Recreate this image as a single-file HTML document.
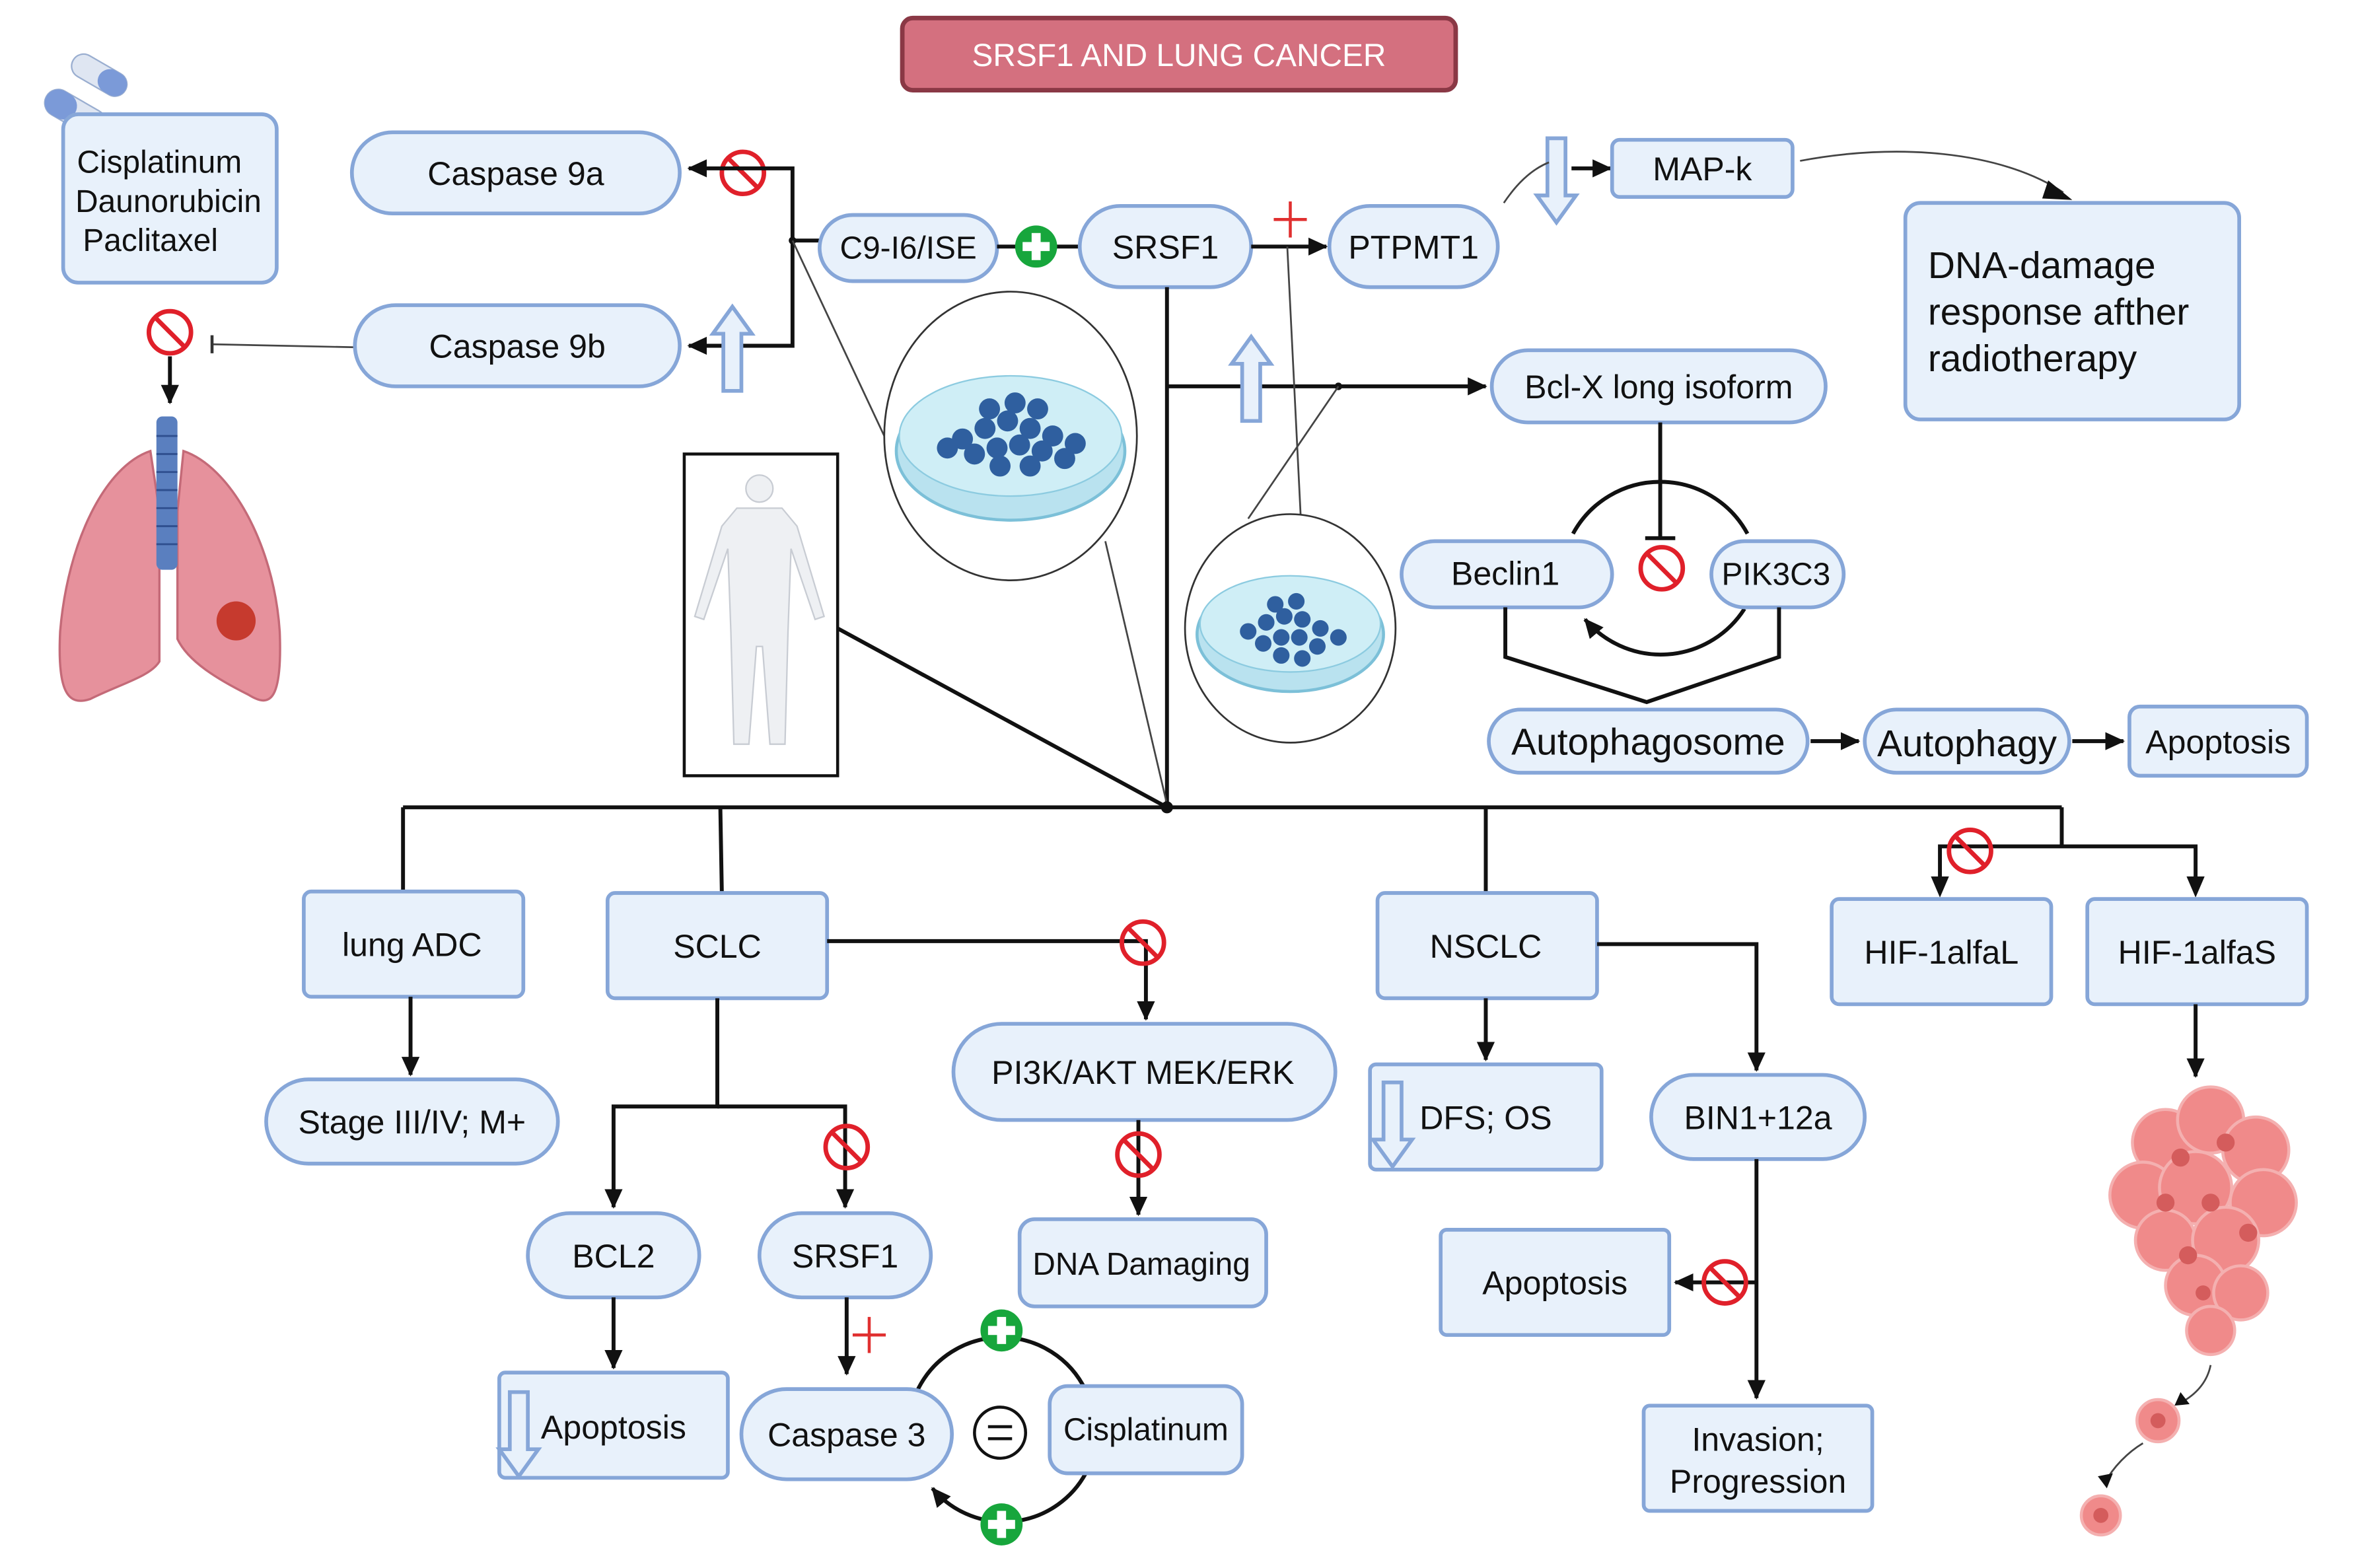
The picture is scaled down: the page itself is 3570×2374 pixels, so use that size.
<!DOCTYPE html>
<html><head><meta charset="utf-8"><style>
html,body{margin:0;padding:0;background:#fff;}
svg{display:block;}
text{font-family:"Liberation Sans Narrow","Liberation Sans",sans-serif;fill:#111;}
.b{fill:#e8f1fb;stroke:#86a6d8;stroke-width:2.5;}
.l{stroke:#111;stroke-width:2.6;fill:none;}
.t{stroke:#444;stroke-width:1.2;fill:none;}
</style></head><body>
<svg width="3570" height="2374" viewBox="0 0 1568 1043" preserveAspectRatio="none" xmlns="http://www.w3.org/2000/svg">
<defs>
<marker id="a" markerWidth="8" markerHeight="8" refX="6" refY="4" orient="auto" markerUnits="userSpaceOnUse"><path d="M0,0 L0,0 L8,4 L0,8 Z" transform="scale(1.6) translate(-2,-1.5)" fill="#111"/></marker>
<marker id="ah" markerWidth="14" markerHeight="14" refX="12" refY="7" orient="auto" markerUnits="userSpaceOnUse"><path d="M0,1 L13,7 L0,13 Z" fill="#111"/></marker>
<g id="ban"><circle r="14" fill="none" stroke="#e0202a" stroke-width="3"/><line x1="-10" y1="-10" x2="10" y2="10" stroke="#e0202a" stroke-width="3"/></g>
<g id="gp"><circle r="14" fill="#17a63c"/><rect x="-9" y="-3" width="18" height="6" fill="#fff"/><rect x="-3" y="-9" width="6" height="18" fill="#fff"/></g>
<g id="up"><path d="M0,-28 L13,-10 L6,-10 L6,28 L-6,28 L-6,-10 L-13,-10 Z" fill="#e8f1fb" stroke="#86a6d8" stroke-width="2.5"/></g>
<g id="rp"><line x1="-11" y1="0" x2="11" y2="0" stroke="#e03030" stroke-width="2"/><line x1="0" y1="-12" x2="0" y2="12" stroke="#e03030" stroke-width="2"/></g>
</defs>

<!-- title -->
<rect x="600" y="12" width="368" height="48" rx="7" fill="#d4707f" stroke="#8a3845" stroke-width="3"/>
<text x="784" y="44" font-size="21" text-anchor="middle" style="fill:#fff">SRSF1 AND LUNG CANCER</text>

<!-- pills -->
<g transform="translate(66,50) rotate(30)"><rect x="-20" y="-8" width="40" height="16" rx="8" fill="#dfe6f2" stroke="#9aaed0"/><rect x="0" y="-8" width="20" height="16" rx="8" fill="#7b9ad8"/></g>
<g transform="translate(50,75) rotate(30)"><rect x="-22" y="-9" width="44" height="18" rx="9" fill="#dfe6f2" stroke="#9aaed0"/><rect x="-22" y="-9" width="22" height="18" rx="9" fill="#7b9ad8"/></g>
<rect class="b" x="42" y="76" width="142" height="112" rx="10"/>
<text font-size="21" text-anchor="middle"><tspan x="106" y="115">Cisplatinum</tspan><tspan x="112" y="141">Daunorubicin</tspan><tspan x="100" y="167">Paclitaxel</tspan></text>
<use href="#ban" x="113" y="221"/>
<line class="l" x1="113" y1="237" x2="113" y2="268" marker-end="url(#ah)"/>
<line class="t" x1="141" y1="229" x2="236" y2="231" stroke-width="1.6"/><line x1="141" y1="223" x2="141" y2="235" stroke="#333" stroke-width="2"/>

<!-- lungs -->
<path d="M100,300 C70,310 45,360 40,420 C38,460 45,470 60,465 C80,455 100,450 106,440 L106,340 Z" fill="#e6919c" stroke="#c46a78" stroke-width="1.5"/>
<path d="M122,300 C152,310 182,360 186,420 C188,470 178,470 165,462 C145,452 125,440 118,425 L118,340 Z" fill="#e6919c" stroke="#c46a78" stroke-width="1.5"/>
<rect x="104" y="277" width="14" height="102" rx="4" fill="#5a7fbf"/>
<g stroke="#2f4f8f" stroke-width="1.3"><line x1="104" y1="290" x2="118" y2="290"/><line x1="104" y1="302" x2="118" y2="302"/><line x1="104" y1="314" x2="118" y2="314"/><line x1="104" y1="326" x2="118" y2="326"/><line x1="104" y1="338" x2="118" y2="338"/><line x1="104" y1="350" x2="118" y2="350"/><line x1="104" y1="362" x2="118" y2="362"/></g>
<circle cx="157" cy="413" r="13" fill="#c63a2e"/>

<!-- caspases -->
<rect class="b" x="234" y="88" width="218" height="54" rx="27"/><text x="343" y="123" font-size="22" text-anchor="middle">Caspase 9a</text>
<rect class="b" x="236" y="203" width="216" height="54" rx="27"/><text x="344" y="238" font-size="22" text-anchor="middle">Caspase 9b</text>
<use href="#ban" x="494" y="115"/>
<polyline class="l" points="527,160 527,112 458,112" marker-end="url(#ah)"/>
<polyline class="l" points="527,160 527,230 458,230" marker-end="url(#ah)"/>
<use href="#up" x="487" y="232"/>
<line class="l" x1="527" y1="160" x2="545" y2="160"/>
<circle cx="527" cy="160" r="2.5" fill="#111"/>

<rect class="b" x="545" y="143" width="118" height="44" rx="22"/><text x="604" y="172" font-size="21" text-anchor="middle">C9-I6/ISE</text>
<line class="l" x1="663" y1="164" x2="718" y2="164"/>
<use href="#gp" x="689" y="164"/>
<rect class="b" x="718" y="137" width="114" height="54" rx="27"/><text x="775" y="172" font-size="22" text-anchor="middle">SRSF1</text>
<line class="l" x1="832" y1="164" x2="882" y2="164" marker-end="url(#ah)"/>
<use href="#rp" x="858" y="146"/>
<rect class="b" x="884" y="137" width="112" height="54" rx="27"/><text x="940" y="172" font-size="22" text-anchor="middle">PTPMT1</text>
<g transform="translate(1035,120) rotate(180)"><use href="#up"/></g>
<path class="t" d="M1000,135 C1010,120 1020,112 1030,108"/>
<line class="l" x1="1045" y1="112" x2="1071" y2="112" marker-end="url(#ah)"/>
<rect class="b" x="1072" y="93" width="120" height="38" rx="5"/><text x="1132" y="120" font-size="22" text-anchor="middle">MAP-k</text>
<path class="t" d="M1197,107 C1260,95 1330,100 1372,128" stroke="#111" stroke-width="1.5"/>
<path d="M1362,120 L1378,133 L1358,132 Z" fill="#111"/>
<rect class="b" x="1267" y="135" width="222" height="144" rx="10"/>
<text font-size="25"><tspan x="1282" y="185">DNA-damage</tspan><tspan x="1282" y="216">response afther</tspan><tspan x="1282" y="247">radiotherapy</tspan></text>

<!-- SRSF1 trunk -->
<line class="l" x1="776" y1="191" x2="776" y2="537"/>
<line class="l" x1="776" y1="257" x2="988" y2="257" marker-end="url(#ah)"/>
<use href="#up" x="832" y="252"/>
<circle cx="890" cy="257" r="2.5" fill="#111"/>
<rect class="b" x="992" y="233" width="222" height="48" rx="24"/><text x="1103" y="265" font-size="22" text-anchor="middle">Bcl-X long isoform</text>
<line class="l" x1="1104" y1="281" x2="1104" y2="358"/><line x1="1094" y1="358" x2="1114" y2="358" stroke="#111" stroke-width="2.6"/>
<path class="l" d="M1046,355 A66,66 0 0 1 1162,355"/>
<path class="l" d="M1160,405 A66,66 0 0 1 1054,412" marker-end="url(#ah)"/>
<use href="#ban" x="1105" y="378"/>
<rect class="b" x="932" y="360" width="140" height="44" rx="22"/><text x="1001" y="389" font-size="22" text-anchor="middle">Beclin1</text>
<rect class="b" x="1138" y="360" width="88" height="44" rx="22"/><text x="1181" y="389" font-size="21" text-anchor="middle">PIK3C3</text>
<polyline class="l" points="1001,404 1001,437 1095,467 1183,437 1183,404"/>
<rect class="b" x="990" y="472" width="212" height="42" rx="21"/><text x="1096" y="502" font-size="25" text-anchor="middle">Autophagosome</text>
<line class="l" x1="1204" y1="493" x2="1236" y2="493" marker-end="url(#ah)"/>
<rect class="b" x="1240" y="472" width="136" height="42" rx="21"/><text x="1308" y="503" font-size="25" text-anchor="middle">Autophagy</text>
<line class="l" x1="1378" y1="493" x2="1412" y2="493" marker-end="url(#ah)"/>
<rect class="b" x="1416" y="470" width="118" height="46" rx="7"/><text x="1475" y="501" font-size="22" text-anchor="middle">Apoptosis</text>

<!-- petri dishes -->
<line class="t" x1="527" y1="160" x2="588" y2="290"/>
<line class="t" x1="735" y1="360" x2="776" y2="535"/>
<ellipse cx="672" cy="290" rx="84" ry="96" fill="#fff" stroke="#333" stroke-width="1.2"/>
<ellipse cx="672" cy="300" rx="76" ry="46" fill="#b9e2ef" stroke="#7cc0d8" stroke-width="2"/>
<ellipse cx="672" cy="290" rx="74" ry="40" fill="#cfeef6" stroke="#8ccbe0"/>
<g fill="#2f5f9f">
<circle cx="640" cy="292" r="7"/><circle cx="655" cy="285" r="7"/><circle cx="670" cy="280" r="7"/><circle cx="685" cy="285" r="7"/><circle cx="700" cy="290" r="7"/><circle cx="715" cy="295" r="7"/><circle cx="648" cy="302" r="7"/><circle cx="663" cy="298" r="7"/><circle cx="678" cy="296" r="7"/><circle cx="693" cy="300" r="7"/><circle cx="708" cy="305" r="7"/><circle cx="658" cy="272" r="7"/><circle cx="675" cy="268" r="7"/><circle cx="690" cy="272" r="7"/><circle cx="665" cy="310" r="7"/><circle cx="685" cy="310" r="7"/><circle cx="630" cy="298" r="7"/></g>
<line class="t" x1="856" y1="164" x2="865" y2="345"/>
<line class="t" x1="890" y1="257" x2="830" y2="345"/>
<ellipse cx="858" cy="418" rx="70" ry="76" fill="#fff" stroke="#333" stroke-width="1.2"/>
<ellipse cx="858" cy="422" rx="62" ry="38" fill="#b9e2ef" stroke="#7cc0d8" stroke-width="2"/>
<ellipse cx="858" cy="415" rx="60" ry="32" fill="#cfeef6" stroke="#8ccbe0"/>
<g fill="#2f5f9f">
<circle cx="830" cy="420" r="5.5"/><circle cx="842" cy="414" r="5.5"/><circle cx="854" cy="410" r="5.5"/><circle cx="866" cy="412" r="5.5"/><circle cx="878" cy="418" r="5.5"/><circle cx="890" cy="424" r="5.5"/><circle cx="840" cy="428" r="5.5"/><circle cx="852" cy="424" r="5.5"/><circle cx="864" cy="424" r="5.5"/><circle cx="876" cy="430" r="5.5"/><circle cx="848" cy="402" r="5.5"/><circle cx="862" cy="400" r="5.5"/><circle cx="852" cy="436" r="5.5"/><circle cx="866" cy="438" r="5.5"/></g>

<!-- human -->
<rect x="455" y="302" width="102" height="214" fill="#fff" stroke="#111" stroke-width="2"/>
<g fill="#eef0f3" stroke="#c8ccd3" stroke-width="1">
<circle cx="505" cy="325" r="9"/>
<path d="M490,338 L520,338 L530,350 L548,410 L542,412 L526,365 L524,420 L522,495 L512,495 L507,430 L503,430 L498,495 L488,495 L486,420 L484,365 L468,412 L462,410 L480,350 Z"/></g>
<line class="l" x1="557" y1="418" x2="776" y2="537"/>

<!-- bottom bus -->
<line class="l" x1="268" y1="537" x2="1371" y2="537"/>
<circle cx="776" cy="537" r="4" fill="#111"/>
<line class="l" x1="268" y1="537" x2="268" y2="593"/>
<line class="l" x1="479" y1="537" x2="480" y2="594"/>
<line class="l" x1="988" y1="537" x2="988" y2="594"/>
<line class="l" x1="1371" y1="537" x2="1371" y2="563"/>
<polyline class="l" points="1290,594 1290,563 1460,563 1460,594"/>
<path d="M1284,583 L1296,583 L1290,597 Z" fill="#111"/><path d="M1454,583 L1466,583 L1460,597 Z" fill="#111"/>
<use href="#ban" x="1310" y="566"/>

<rect class="b" x="202" y="593" width="146" height="70" rx="5"/><text x="274" y="636" font-size="22" text-anchor="middle">lung ADC</text>
<line class="l" x1="273" y1="663" x2="273" y2="715" marker-end="url(#ah)"/>
<rect class="b" x="177" y="718" width="194" height="56" rx="28"/><text x="274" y="754" font-size="22" text-anchor="middle">Stage III/IV; M+</text>

<rect class="b" x="404" y="594" width="146" height="70" rx="5"/><text x="477" y="637" font-size="22" text-anchor="middle">SCLC</text>
<polyline class="l" points="550,626 762,626 762,678" marker-end="url(#ah)"/>
<use href="#ban" x="760" y="627"/>
<rect class="b" x="634" y="681" width="254" height="64" rx="32"/><text x="760" y="721" font-size="22" text-anchor="middle">PI3K/AKT  MEK/ERK</text>
<line class="l" x1="757" y1="745" x2="757" y2="808" marker-end="url(#ah)"/>
<use href="#ban" x="757" y="768"/>
<rect class="b" x="678" y="811" width="164" height="58" rx="10"/><text x="759" y="848" font-size="21" text-anchor="middle">DNA Damaging</text>

<polyline class="l" points="477,664 477,736 408,736 408,803" marker-end="url(#ah)"/>
<polyline class="l" points="477,736 562,736 562,803" marker-end="url(#ah)"/>
<use href="#ban" x="563" y="763"/>
<rect class="b" x="351" y="807" width="114" height="56" rx="28"/><text x="408" y="843" font-size="22" text-anchor="middle">BCL2</text>
<line class="l" x1="408" y1="863" x2="408" y2="910" marker-end="url(#ah)"/>
<rect class="b" x="332" y="913" width="152" height="70" rx="4"/>
<g transform="translate(345,954) rotate(180)"><use href="#up"/></g>
<text x="408" y="957" font-size="22" text-anchor="middle">Apoptosis</text>
<rect class="b" x="505" y="807" width="114" height="56" rx="28"/><text x="562" y="843" font-size="22" text-anchor="middle">SRSF1</text>
<line class="l" x1="563" y1="863" x2="563" y2="914" marker-end="url(#ah)"/>
<use href="#rp" x="578" y="888"/>
<path class="l" d="M610,925 A62,62 0 0 1 722,925"/>
<path class="l" d="M722,980 A62,62 0 0 1 620,990" marker-end="url(#ah)"/>
<rect class="b" x="493" y="924" width="140" height="60" rx="30"/><text x="563" y="962" font-size="22" text-anchor="middle">Caspase 3</text>
<rect class="b" x="698" y="922" width="128" height="58" rx="12"/><text x="762" y="958" font-size="21" text-anchor="middle">Cisplatinum</text>
<circle cx="665" cy="953" r="17" fill="#fff" stroke="#111" stroke-width="2"/>
<line x1="657" y1="949" x2="673" y2="949" stroke="#111" stroke-width="2"/><line x1="657" y1="957" x2="673" y2="957" stroke="#111" stroke-width="2"/>
<use href="#gp" x="666" y="885"/><use href="#gp" x="666" y="1014"/>

<rect class="b" x="916" y="594" width="146" height="70" rx="5"/><text x="988" y="637" font-size="22" text-anchor="middle">NSCLC</text>
<line class="l" x1="988" y1="664" x2="988" y2="705" marker-end="url(#ah)"/>
<rect class="b" x="911" y="708" width="154" height="70" rx="4"/>
<g transform="translate(926,748) rotate(180)"><use href="#up"/></g>
<text x="988" y="751" font-size="22" text-anchor="middle">DFS; OS</text>
<polyline class="l" points="1062,628 1168,628 1168,712" marker-end="url(#ah)"/>
<rect class="b" x="1098" y="715" width="142" height="56" rx="28"/><text x="1169" y="751" font-size="22" text-anchor="middle">BIN1+12a</text>
<line class="l" x1="1168" y1="771" x2="1168" y2="930" marker-end="url(#ah)"/>
<line class="l" x1="1168" y1="853" x2="1114" y2="853" marker-end="url(#ah)"/>
<use href="#ban" x="1147" y="853"/>
<rect class="b" x="958" y="818" width="152" height="70" rx="4"/><text x="1034" y="861" font-size="22" text-anchor="middle">Apoptosis</text>
<rect class="b" x="1093" y="935" width="152" height="70" rx="4"/>
<text font-size="22" text-anchor="middle"><tspan x="1169" y="965">Invasion;</tspan><tspan x="1169" y="993">Progression</tspan></text>

<rect class="b" x="1218" y="598" width="146" height="70" rx="5"/><text x="1291" y="641" font-size="22" text-anchor="middle">HIF-1alfaL</text>
<rect class="b" x="1388" y="598" width="146" height="70" rx="5"/><text x="1461" y="641" font-size="22" text-anchor="middle">HIF-1alfaS</text>
<line class="l" x1="1460" y1="668" x2="1460" y2="716" marker-end="url(#ah)"/>

<!-- tumor -->
<g fill="#f08a8a" stroke="#f4b0b0" stroke-width="2">
<circle cx="1440" cy="760" r="22"/><circle cx="1470" cy="745" r="22"/><circle cx="1500" cy="765" r="22"/><circle cx="1425" cy="795" r="22"/><circle cx="1460" cy="790" r="24"/><circle cx="1505" cy="800" r="22"/><circle cx="1440" cy="825" r="20"/><circle cx="1480" cy="825" r="22"/><circle cx="1460" cy="855" r="20"/><circle cx="1490" cy="860" r="18"/><circle cx="1470" cy="885" r="16"/><circle cx="1435" cy="945" r="14"/><circle cx="1397" cy="1008" r="13"/></g>
<g fill="#d45c5c"><circle cx="1450" cy="770" r="6"/><circle cx="1480" cy="760" r="6"/><circle cx="1440" cy="800" r="6"/><circle cx="1470" cy="800" r="6"/><circle cx="1495" cy="820" r="6"/><circle cx="1455" cy="835" r="6"/><circle cx="1465" cy="860" r="5"/><circle cx="1435" cy="945" r="5"/><circle cx="1397" cy="1008" r="5"/></g>
<path class="t" d="M1470,908 C1468,918 1462,926 1452,932" stroke="#111"/><path d="M1450,926 L1456,934 L1446,935 Z" fill="#111"/>
<path class="t" d="M1425,960 C1415,966 1405,976 1400,986" stroke="#111"/><path d="M1395,982 L1401,990 L1405,980 Z" fill="#111"/>
</svg>
</body></html>
